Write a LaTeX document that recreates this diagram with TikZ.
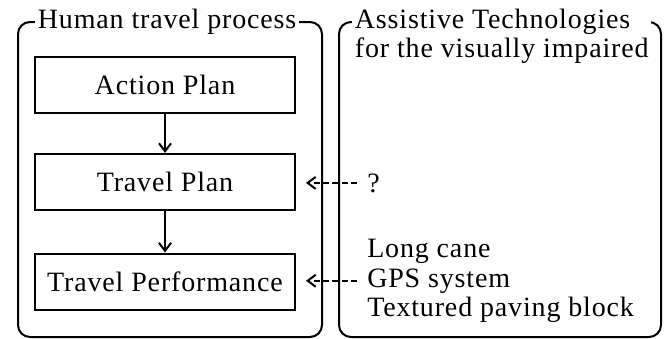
\documentclass[tikz,border=0pt]{standalone}
\usepackage{fontspec}
\setmainfont[LetterSpace=3]{Liberation Serif}
\usetikzlibrary{arrows.meta}
\begin{document}
\begin{tikzpicture}[x=0.75pt,y=-0.75pt,
  font=\fontsize{21}{22}\selectfont,
  frame/.style={line width=1.5pt, rounded corners=9pt},
  title/.style={fill=white, inner sep=2pt},
  stage/.style={draw, line width=1.5pt, minimum width=195pt, minimum height=42pt, inner sep=0pt},
  item/.style={anchor=base west, inner sep=0pt},
  flow/.style={line width=1.5pt, -{Straight Barb[length=6pt,width=9pt]}},
  aid/.style={flow, dash pattern=on 4.5pt off 2.5pt, shorten <=7.5pt, shorten >=7.5pt}]
\useasboundingbox (0,0) rectangle (665,339);

% group frames
\draw[frame] (18,22) rectangle (322,337);
\draw[frame] (339,22) rectangle (661,337);

% group titles (white fill breaks the top edge)
\node[title, anchor=base west] (human) at (35,28) {Human travel process};
\node[title, anchor=north west, align=left] (assist) at (352,6)
  {Assistive Technologies\\for the visually impaired};

% travel process stages
\node[stage] (action) at (165,85) {Action Plan};
\node[stage] (plan) at (165,182) {Travel Plan};
\node[stage] (perf) at (165,281.5) {Travel Performance};

\draw[flow] (action.south) -- (plan.north);
\draw[flow] (plan.south) -- (perf.north);

% assistive technologies
\node[item] (unknown) at (367,192) {?};
\node[item] (cane) at (367,257) {Long cane};
\node[item] (gps) at (367,287) {GPS system};
\node[item] (paving) at (367,316) {Textured paving block};

\draw[aid] (unknown.west) -- (unknown.west -| plan.east);
\draw[aid] (gps.west) -- (gps.west -| perf.east);
\end{tikzpicture}
\end{document}
